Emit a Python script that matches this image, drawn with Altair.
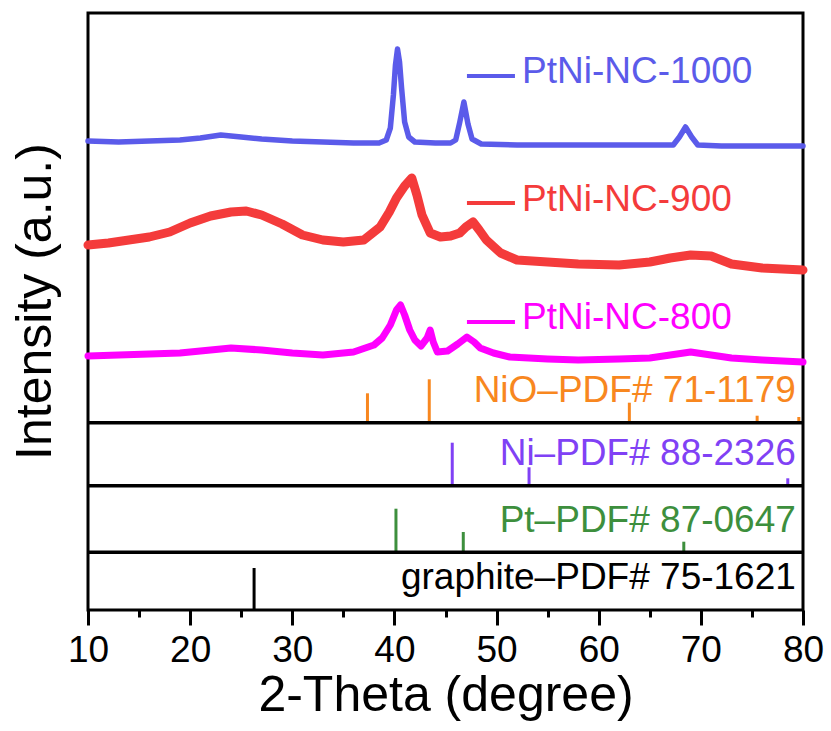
import altair as alt
import pandas as pd

# ---------------- data ----------------
# 2-theta (deg) and stacked intensity (a.u., offset included)
tt_1000 = [10, 13, 16, 19, 21, 23, 25, 27, 30, 33, 36, 38.5, 39.2, 39.6, 39.9, 40.1, 40.3, 40.5, 40.7, 41.0,
           41.4, 42.0, 44.0, 45.5, 46.0, 46.4, 46.8, 47.2, 47.6, 48.5, 52, 56, 60, 64, 67.3, 67.9, 68.5,
           69.1, 69.7, 72, 76, 80]
int_1000 = [469, 468, 469, 470, 472, 475, 473, 471, 469, 468, 467, 467, 470, 482, 515, 545, 561, 548, 522, 488,
            473, 468, 467, 467, 470, 488, 508, 486, 471, 466, 465, 465, 465, 465, 465, 473, 483,
            473, 465, 464, 464, 464]

tt_900 = [10, 12, 14, 16, 18, 20, 22, 24, 25.5, 27, 29, 31, 33, 35, 37, 38.6, 39.5, 40.2, 41.0, 41.7,
          42.2, 42.7, 43.5, 44.5, 45.5, 46.4, 47.0, 47.7, 48.3, 49.0, 50.4, 52, 55, 58, 62, 65, 67, 69,
          71, 73, 76, 80]
int_900 = [365, 367, 370, 373, 378, 387, 394, 398, 399, 395, 386, 375, 370, 368, 370, 383, 398, 412, 424, 432,
           415, 395, 377, 373, 374, 377, 383, 388, 380, 370, 357, 350, 348, 346, 345, 348, 352, 355,
           354, 346, 342, 340]

tt_800 = [10, 13, 16, 19, 21, 24, 27, 30, 33, 36, 38.0, 38.8, 39.6, 40.2, 40.6, 41.0, 41.5, 42.0, 42.6,
          43.2, 43.5, 43.8, 44.2, 45.2, 46.2, 47.1, 47.8, 48.4, 49.7, 51.3, 55, 58, 62, 65, 67, 69, 71,
          73, 76, 80]
int_800 = [254, 255, 256, 257, 259, 262, 260, 257, 255, 258, 265, 272, 285, 300, 305, 295, 280, 270, 264,
           272, 280, 268, 258, 259, 266, 273, 268, 262, 257, 253, 251, 250, 251, 252, 255, 258, 255,
           252, 250, 248]

# reference patterns: peak positions (deg) and relative intensities
nio_pos = [37.36, 43.41, 63.0, 75.51, 79.59]
nio_int = [29.4, 43.4, 20.0, 7.0, 5.7]
ni_pos = [45.66, 53.18, 78.51]
ni_int = [43.0, 18.4, 7.4]
pt_pos = [40.15, 46.74, 68.33]
pt_int = [43.6, 20.3, 10.6]
gr_pos = [26.26]
gr_int = [42.0]

series_names = ["PtNi-NC-1000", "PtNi-NC-900", "PtNi-NC-800"]
series_colors = ["#5b5bea", "#f43b3b", "#ff00ff"]
series_widths = [5.5, 9, 7]

phase_labels = ["NiO\u2013PDF# 71-1179", "Ni\u2013PDF# 88-2326", "Pt\u2013PDF# 87-0647",
                "graphite\u2013PDF# 75-1621"]
phase_colors = ["#f8871f", "#8041f5", "#3d8f3d", "#000000"]

# ---------------- layout (not data) ----------------
W, H = 715, 597
panel_base = [187.3, 124.3, 57.7, 0.0]      # baselines of the stick panels
legend_line_y = [534, 407, 288]
legend_text_y = [527, 399, 281]
legend_x0, legend_x1, legend_tx = 47.1, 51.8, 52.5
phase_text_x = 79.3
phase_text_dy = 20.7
FONT = "Liberation Sans, Arial, sans-serif"

curves = pd.concat([
    pd.DataFrame({"x": tt, "y": iv, "series": n, "color": c, "w": w})
    for tt, iv, n, c, w in zip([tt_1000, tt_900, tt_800], [int_1000, int_900, int_800],
                               series_names, series_colors, series_widths)
])

stick_rows = []
for pos, ints, base, col in zip([nio_pos, ni_pos, pt_pos, gr_pos], [nio_int, ni_int, pt_int, gr_int],
                                panel_base, phase_colors):
    for p, h in zip(pos, ints):
        stick_rows.append({"x": p, "y": base, "y2": base + h, "color": col})
sticks = pd.DataFrame(stick_rows)

seps = pd.DataFrame({"x": [10] * 3, "x2": [80] * 3, "y": panel_base[:3]})

leg_lines = pd.DataFrame({"x": [legend_x0] * 3, "x2": [legend_x1] * 3, "y": legend_line_y,
                          "color": series_colors})
leg_text = pd.DataFrame({"x": [legend_tx] * 3, "y": legend_text_y, "text": series_names,
                         "color": series_colors})
ph_text = pd.DataFrame({"x": [phase_text_x] * 4, "y": [b + phase_text_dy for b in panel_base],
                        "text": phase_labels, "color": phase_colors})

xs = alt.Scale(domain=[10, 80], nice=False, zero=False)
ys = alt.Scale(domain=[0, H], nice=False, zero=False)

x_axis = alt.Axis(
    title="2-Theta (degree)", values=list(range(10, 81, 5)),
    labelExpr="datum.value % 10 === 0 ? datum.label : ''",
    tickSize={"condition": {"test": "datum.value % 10 === 0", "value": 15}, "value": 7},
    tickWidth=3, tickColor="black", domain=False, grid=False,
    labelFontSize=37, labelColor="black", labelPadding=7, labelFlush=False, labelOverlap=False,
    titleFontSize=50, titleFontWeight="normal", titleColor="black",
    titleX=W / 2, titleY=100, titleAlign="center", titleBaseline="alphabetic",
)
y_axis = alt.Axis(
    title="Intensity (a.u.)", labels=False, ticks=False, domain=False, grid=False,
    titleFontSize=50, titleFontWeight="normal", titleColor="black", titleAngle=270,
    titleX=-38, titleY=288, titleAlign="center", titleBaseline="alphabetic",
)

X = alt.X("x:Q", scale=xs, axis=x_axis)
Y = alt.Y("y:Q", scale=ys, axis=y_axis)

lines = alt.Chart(curves).mark_line(strokeJoin="round", strokeCap="round").encode(
    x=X, y=Y,
    color=alt.Color("color:N", scale=None),
    strokeWidth=alt.StrokeWidth("w:Q", scale=None),
    detail="series:N",
)

stick_layer = alt.Chart(sticks).mark_rule(strokeWidth=3).encode(
    x=X, y=Y, y2="y2:Q", color=alt.Color("color:N", scale=None)
)

sep_layer = alt.Chart(seps).mark_rule(strokeWidth=3.5, color="black").encode(
    x=X, x2="x2:Q", y=Y
)

leg_line_layer = alt.Chart(leg_lines).mark_rule(strokeWidth=4).encode(
    x=X, x2="x2:Q", y=Y, color=alt.Color("color:N", scale=None)
)

leg_text_layer = alt.Chart(leg_text).mark_text(
    align="left", baseline="alphabetic", fontSize=37, font=FONT
).encode(x=X, y=Y, text="text:N", color=alt.Color("color:N", scale=None))

ph_text_layer = alt.Chart(ph_text).mark_text(
    align="right", baseline="alphabetic", fontSize=37, font=FONT
).encode(x=X, y=Y, text="text:N", color=alt.Color("color:N", scale=None))

chart = alt.layer(
    lines, stick_layer, sep_layer, leg_line_layer, leg_text_layer, ph_text_layer
).properties(
    width=W, height=H,
    padding={"left": 88, "top": 13, "right": 28, "bottom": 121},
    autosize=alt.AutoSizeParams(type="none"),
    background="white",
).configure_view(
    stroke="black", strokeWidth=3
).configure_axis(
    labelFont=FONT, titleFont=FONT
)

chart.save("out.html", embed_options={"renderer": "svg", "actions": False})
